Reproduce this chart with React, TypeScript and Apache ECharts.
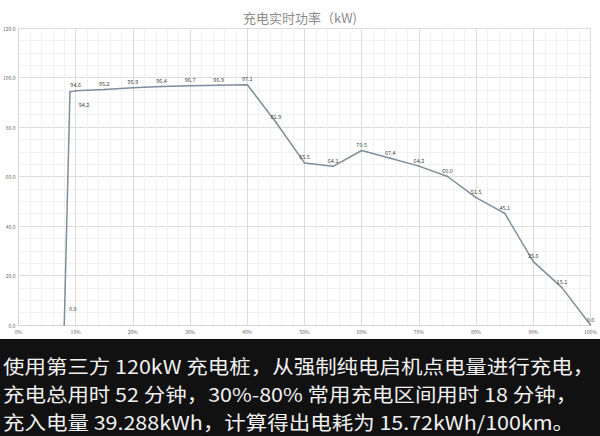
import React, { useEffect, useRef } from "react";
import * as echarts from "echarts";

// state of charge (%) and charging power (kW)
const socPct = [8, 9, 10, 15, 20, 25, 30, 35, 40, 45, 50, 55, 60, 65, 70, 75, 80, 85, 90, 95, 100];
const powerKw = [0.0, 94.2, 94.6, 95.2, 95.9, 96.4, 96.7, 96.9, 97.1, 81.9, 65.5, 64.1, 70.5, 67.4, 64.2, 60.0, 51.5, 45.1, 25.6, 15.1, 0.0];

const yTicks = [0, 20, 40, 60, 80, 100, 120];
const xTicks = [0, 10, 20, 30, 40, 50, 60, 70, 80, 90, 100];

const titleText = "充电实时功率（kW)";
const captionLines = [
  "使用第三方 120kW 充电桩，从强制纯电启机点电量进行充电，",
  "充电总用时 52 分钟，30%-80% 常用充电区间用时 18 分钟，",
  "充入电量 39.288kWh，计算得出电耗为 15.72kWh/100km。",
];

const FONT = "'Noto Sans CJK SC', 'Noto Sans', sans-serif";

export default function App() {
  const chartRef = useRef<HTMLDivElement>(null);

  useEffect(() => {
    if (!chartRef.current) return;
    const chart = echarts.init(chartRef.current, undefined, { renderer: "svg" });

    const data = socPct.map((x, i) => {
      const item: any = { value: [x, powerKw[i]] };
      if (i === 0) item.label = { position: "right", offset: [2, -16] };
      if (i === 1) item.label = { position: "right", offset: [6, 13] };
      return item;
    });

    chart.setOption({
      animation: false,
      backgroundColor: "#ffffff",
      textStyle: { fontFamily: FONT },
      title: {
        text: titleText,
        left: "center",
        top: 6,
        textStyle: { color: "#8c8c8c", fontSize: 13, fontWeight: "normal", fontFamily: FONT },
      },
      grid: { left: 18, right: 9, top: 28, bottom: 111 },
      xAxis: {
        type: "value",
        min: xTicks[0],
        max: xTicks[xTicks.length - 1],
        interval: 10,
        axisLine: { show: true, lineStyle: { color: "#d6d6d6" } },
        axisTick: { show: false },
        axisLabel: { fontSize: 5, color: "#666", margin: 4, formatter: (v: number) => `${v}%` },
        splitLine: { show: true, lineStyle: { color: "#dcdcdc", width: 1 } },
        minorTick: { show: false, splitNumber: 5 },
        minorSplitLine: { show: true, lineStyle: { color: "#f1f1f1" } },
      },
      yAxis: {
        type: "value",
        min: yTicks[0],
        max: yTicks[yTicks.length - 1],
        interval: 20,
        axisLine: { show: true, lineStyle: { color: "#d6d6d6" } },
        axisTick: { show: false },
        axisLabel: { fontSize: 5, color: "#666", margin: 3, formatter: (v: number) => v.toFixed(1) },
        splitLine: { show: true, lineStyle: { color: "#dcdcdc", width: 1 } },
        minorTick: { show: false, splitNumber: 4 },
        minorSplitLine: { show: true, lineStyle: { color: "#f1f1f1" } },
      },
      series: [
        {
          type: "line",
          data,
          symbol: "circle",
          symbolSize: 1.5,
          itemStyle: { color: "#7f8e9b" },
          lineStyle: { color: "#7f8e9b", width: 1.5 },
          label: {
            show: true,
            position: "top",
            distance: 2,
            fontSize: 5.5,
            color: "#444",
            formatter: (p: any) => p.value[1].toFixed(1),
          },
        },
      ],
      graphic: [
        {
          type: "rect",
          shape: { x: 0, y: 339, width: 600, height: 97 },
          style: { fill: "#111111" },
          silent: true,
        },
        // caption, slightly condensed vertically so the three lines keep clear of each other
        ...captionLines.map((line, i) => ({
          type: "text",
          x: 3,
          y: 366 + i * 27.6,
          scaleX: 1.13,
          style: {
            text: line,
            fill: "#f2f2f2",
            fontSize: 19,
            fontFamily: FONT,
            verticalAlign: "middle",
          },
          silent: true,
        })),
      ],
    });

    return () => {
      chart.dispose();
    };
  }, []);

  return (
    <div
      ref={chartRef}
      style={{ position: "fixed", left: 0, top: 0, width: "600px", height: "436px" }}
    />
  );
}
